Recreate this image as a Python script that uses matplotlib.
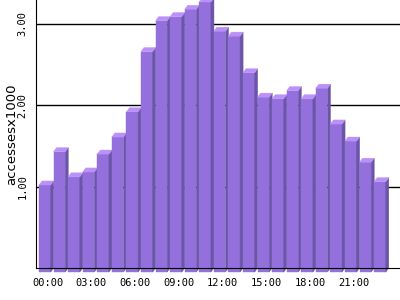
import matplotlib
matplotlib.use("Agg")
import matplotlib.pyplot as plt
from matplotlib.patches import Polygon

hours = ["%02d:00" % h for h in range(24)]
accesses = [1.07, 1.48, 1.17, 1.23, 1.45, 1.66, 1.97, 2.71, 3.09, 3.14, 3.23, 3.32,
            2.96, 2.90, 2.45, 2.15, 2.13, 2.23, 2.13, 2.26, 1.82, 1.61, 1.35, 1.11]
yticks = [1, 2, 3]
ytick_labels = ["1.00", "2.00", "3.00"]

front_col = "#9370db"
top_col = "#bb90f8"
side_col = "#6b55a8"

fig = plt.figure(figsize=(4, 3), dpi=100)
ax = fig.add_axes([36 / 400, 32 / 300, 364 / 400, 268 / 300])
ax.set_xlim(-0.706, 24.28)
ax.set_ylim(0, 3.295)

# fake 3d: back plane is shifted about 3px right and 4px up
dx = 0.21
dy = 0.05
w = 0.8
for i, v in enumerate(accesses):
    x0 = i - 0.5
    front = Polygon([(x0, -dy), (x0 + w, -dy), (x0 + w, v - dy), (x0, v - dy)],
                    closed=True, facecolor=front_col, edgecolor=front_col, linewidth=0.3,
                    clip_on=False, zorder=5)
    side = Polygon([(x0 + w, -dy), (x0 + w + dx, 0), (x0 + w + dx, v), (x0 + w, v - dy)],
                   closed=True, facecolor=side_col, edgecolor=side_col, linewidth=0.3,
                   clip_on=False, zorder=5)
    top = Polygon([(x0, v - dy), (x0 + w, v - dy), (x0 + w + dx, v), (x0 + dx, v)],
                  closed=True, facecolor=top_col, edgecolor=top_col, linewidth=0.3,
                  clip_on=False, zorder=5)
    ax.add_patch(front)
    ax.add_patch(side)
    ax.add_patch(top)

for y in yticks:
    ax.axhline(y, color="black", linewidth=1, zorder=0.5)

ax.spines["top"].set_visible(False)
ax.spines["right"].set_visible(False)
ax.spines["left"].set_zorder(6)
ax.spines["bottom"].set_zorder(6)

ax.set_xticks([i + 0.1 for i in range(0, 24, 3)])
ax.set_xticklabels(hours[::3], fontfamily="DejaVu Sans Mono", fontsize=7.5)
ax.set_yticks(yticks)
ax.set_yticklabels(ytick_labels, fontfamily="DejaVu Sans Mono", fontsize=7.5,
                   rotation=90, va="center")
ax.tick_params(axis="both", length=0)
ax.tick_params(axis="x", pad=7)
ax.tick_params(axis="y", pad=6)

ax.set_ylabel("accessesx1000", fontsize=9.5)
ax.yaxis.set_label_coords(-0.05, 0.5)

fig.savefig("out.png", dpi=100)
